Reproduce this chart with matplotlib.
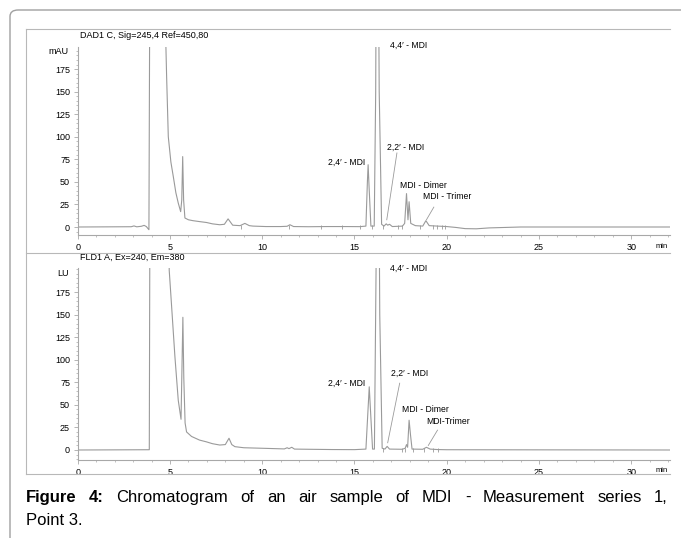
import matplotlib
matplotlib.use("Agg")
import matplotlib.pyplot as plt
from matplotlib.lines import Line2D
from matplotlib.patches import FancyBboxPatch
from matplotlib.ticker import MultipleLocator

plt.rcParams["font.family"] = ["Liberation Sans", "DejaVu Sans"]

# DAD1 C trace (time in min, signal in mAU)
dad_time = [0.0, 2.9, 3.05, 3.2, 3.45, 3.6, 3.72, 3.86, 3.93, 4.72, 4.78, 4.82,
            4.91, 5.05, 5.18, 5.32, 5.45, 5.58, 5.64, 5.69, 5.74, 5.81, 6.0,
            6.25, 6.6, 6.98, 7.3, 7.7, 7.95, 8.15, 8.4, 8.8, 9.06, 9.3, 9.5,
            10.2, 11.0, 11.35, 11.5, 11.7, 12.5, 13.5, 14.5, 15.3, 15.62, 15.7,
            15.74, 15.79, 15.89, 16.07, 16.15, 16.2, 16.27, 16.34, 16.47, 16.6,
            16.72, 16.8, 16.9, 17.05, 17.6, 17.72, 17.82, 17.9, 17.96, 18.05,
            18.3, 18.7, 18.87, 19.05, 19.5, 20.0, 20.5, 21.0, 21.6, 22.3, 24.0,
            32.1]
dad_signal = [0.0, 0.3, 1.2, 0.2, 0.8, 1.8, 0.5, -3.0, 400, 400, 200, 166,
              100, 72, 56, 38, 26.5, 17, 30, 78, 30, 10, 8,
              7, 6, 5, 3.5, 2.5, 3, 9, 2, 1.5, 4, 1.5, 1,
              0.5, 0.5, 0.8, 2.5, 0.5, 0.3, 0.5, 0.5, 0.4, 1, 50,
              69, 45, 1, 1, 150, 400, 400, 150, 3, 1,
              3.5, 2, 3, 0.5, 1, 4, 37, 8, 28, 4,
              1.5, 1, 7, 1.5, 1, 0.5, -0.5, -1.8, -2, -1, 0,
              0]
dad_marks = [8.85, 11.45, 13.2, 14.3, 15.3, 15.93, 16.55, 17.35, 17.55,
             18.55, 19.25, 19.45, 19.72, 19.9]

# FLD1 A trace (time in min, signal in LU)
fld_time = [0.0, 3.88, 3.93, 4.9, 4.96, 5.09, 5.27, 5.45, 5.6, 5.65, 5.7, 5.75,
            5.82, 5.9, 6.17, 6.6, 6.98, 7.3, 7.7, 8.0, 8.2, 8.35, 8.52, 9.0,
            10.2, 11.2, 11.35, 11.45, 11.6, 11.75, 12.5, 13.8, 15.0, 15.62,
            15.8, 15.98, 16.08, 16.17, 16.22, 16.3, 16.37, 16.5, 16.65, 16.77,
            16.9, 17.6, 17.75, 17.82, 17.88, 17.96, 18.04, 18.12, 18.7, 18.9,
            19.1, 19.5, 20.0, 32.1]
fld_signal = [0.0, 0.3, 400, 400, 199, 159, 103, 55, 34, 90, 147, 80,
              30, 20, 15, 11, 9, 7, 5.5, 6, 13, 6, 3.7, 2.5,
              1.8, 1.2, 2.5, 1.5, 3, 1, 0.8, 0.5, 0.4, 1,
              70, 1, 1, 200, 400, 400, 150, 2, 1, 4,
              1, 0.8, 2, 6, 3, 33, 16, 1, 0.8, 3,
              1, 0.5, 0.3, 0]
fld_marks = [16.55, 17.6, 17.75, 18.15, 18.75, 19.25, 19.5]

# peak labels: (text, x, y, ha)
dad_labels = [("4,4\u2032 - MDI", 16.9, 201, "left"),
              ("2,4\u2032 - MDI", 15.56, 72, "right"),
              ("2,2\u2032 - MDI", 16.75, 88, "left"),
              ("MDI - Dimer", 17.47, 46, "left"),
              ("MDI - Trimer", 18.7, 34, "left")]
fld_labels = [("4,4\u2032 - MDI", 16.9, 201, "left"),
              ("2,4\u2032 - MDI", 15.56, 74, "right"),
              ("2,2\u2032 - MDI", 17.0, 85, "left"),
              ("MDI - Dimer", 17.6, 45, "left"),
              ("MDI-Trimer", 18.9, 32, "left")]
# leader lines: (x_from, y_from, x_to, y_to)
dad_leaders = [(17.3, 82, 16.75, 8), (19.3, 22, 18.9, 8)]
fld_leaders = [(17.45, 74, 16.8, 8), (19.5, 22, 19.0, 5)]

W, H = 681, 538
TRACE = "#9a9a9a"
AXIS = "#a8a8a8"
FRAME = "#a0a0a0"
SMALL = 6.5

fig = plt.figure(figsize=(W / 100, H / 100), dpi=100)


def px(x, y):
    return x / W, 1 - y / H


def panel(rect, ylim, time, signal, marks, labels, leaders, unit, title, title_y, min_y):
    ax = fig.add_axes(rect)
    ax.plot(time, signal, color=TRACE, linewidth=0.8)
    ax.vlines(marks, -2, 2, color=TRACE, linewidth=0.6)
    for text, x, y, ha in labels:
        ax.text(x, y, text, ha=ha, va="center", fontsize=6.2)
    for x0, y0, x1, y1 in leaders:
        ax.plot([x0, x1], [y0, y1], color=TRACE, linewidth=0.6)

    ax.set_xlim(0, 32.1)
    ax.set_ylim(*ylim)
    ax.xaxis.set_major_locator(MultipleLocator(5))
    ax.xaxis.set_minor_locator(MultipleLocator(1))
    ax.set_yticks([0, 25, 50, 75, 100, 125, 150, 175])
    ax.yaxis.set_minor_locator(MultipleLocator(5))
    ax.tick_params(which="major", length=3, width=0.6, color=AXIS, labelsize=SMALL, pad=2.5)
    ax.tick_params(which="minor", length=1.5, width=0.5, color=AXIS)
    for side in ("top", "right"):
        ax.spines[side].set_visible(False)
    for side in ("left", "bottom"):
        ax.spines[side].set_color(AXIS)
        ax.spines[side].set_linewidth(0.8)
    ax.set_facecolor("none")

    fig.text(*px(69, title_y + 17), unit, ha="right", va="center", fontsize=SMALL)
    fig.text(*px(80, title_y), title, ha="left", va="center", fontsize=SMALL)
    fig.text(*px(656, min_y), "min", ha="left", va="center", fontsize=5.5)
    return ax


panel([77.7 / W, 1 - 235 / H, 592.3 / W, 188 / H], (-8.86, 199.4),
      dad_time, dad_signal, dad_marks, dad_labels, dad_leaders,
      "mAU", "DAD1 C, Sig=245,4 Ref=450,80", 35, 247)
panel([77.7 / W, 1 - 460 / H, 592.3 / W, 192 / H], (-11.08, 201.6),
      fld_time, fld_signal, fld_marks, fld_labels, fld_leaders,
      "LU", "FLD1 A, Ex=240, Em=380", 257, 470)

# outer rounded frame and inner picture box
fig.add_artist(FancyBboxPatch(px(10, 700), 720 / W, 690 / H,
                              boxstyle="round,pad=0,rounding_size=0.012",
                              transform=fig.transFigure, fill=False,
                              edgecolor=FRAME, linewidth=1.0))
for (x0, y0), (x1, y1) in [((26, 29), (670, 29)), ((26, 29), (26, 474)),
                           ((26, 474), (670, 474)), ((26, 253), (670, 253))]:
    a, b = px(x0, y0)
    c, d = px(x1, y1)
    fig.add_artist(Line2D([a, c], [b, d], color="#b8b8b8", linewidth=0.8))

# caption, justified like the journal layout
renderer = fig.canvas.get_renderer()
words = [("Figure", "bold"), ("4:", "bold"), ("Chromatogram", "normal"),
         ("of", "normal"), ("an", "normal"), ("air", "normal"),
         ("sample", "normal"), ("of", "normal"), ("MDI", "normal"),
         ("-", "normal"), ("Measurement", "normal"), ("series", "normal"),
         ("1,", "normal")]
texts = [fig.text(0, 1 - 502 / H, w, fontsize=12, fontweight=wt, va="baseline")
         for w, wt in words]
widths = [t.get_window_extent(renderer).width for t in texts]
gap = (668 - 26 - sum(widths)) / (len(texts) - 1)
x = 26
for t, w in zip(texts, widths):
    t.set_x(x / W)
    x += w + gap
fig.text(26 / W, 1 - 525 / H, "Point 3.", fontsize=12, va="baseline")

fig.savefig("out.png", dpi=100)
